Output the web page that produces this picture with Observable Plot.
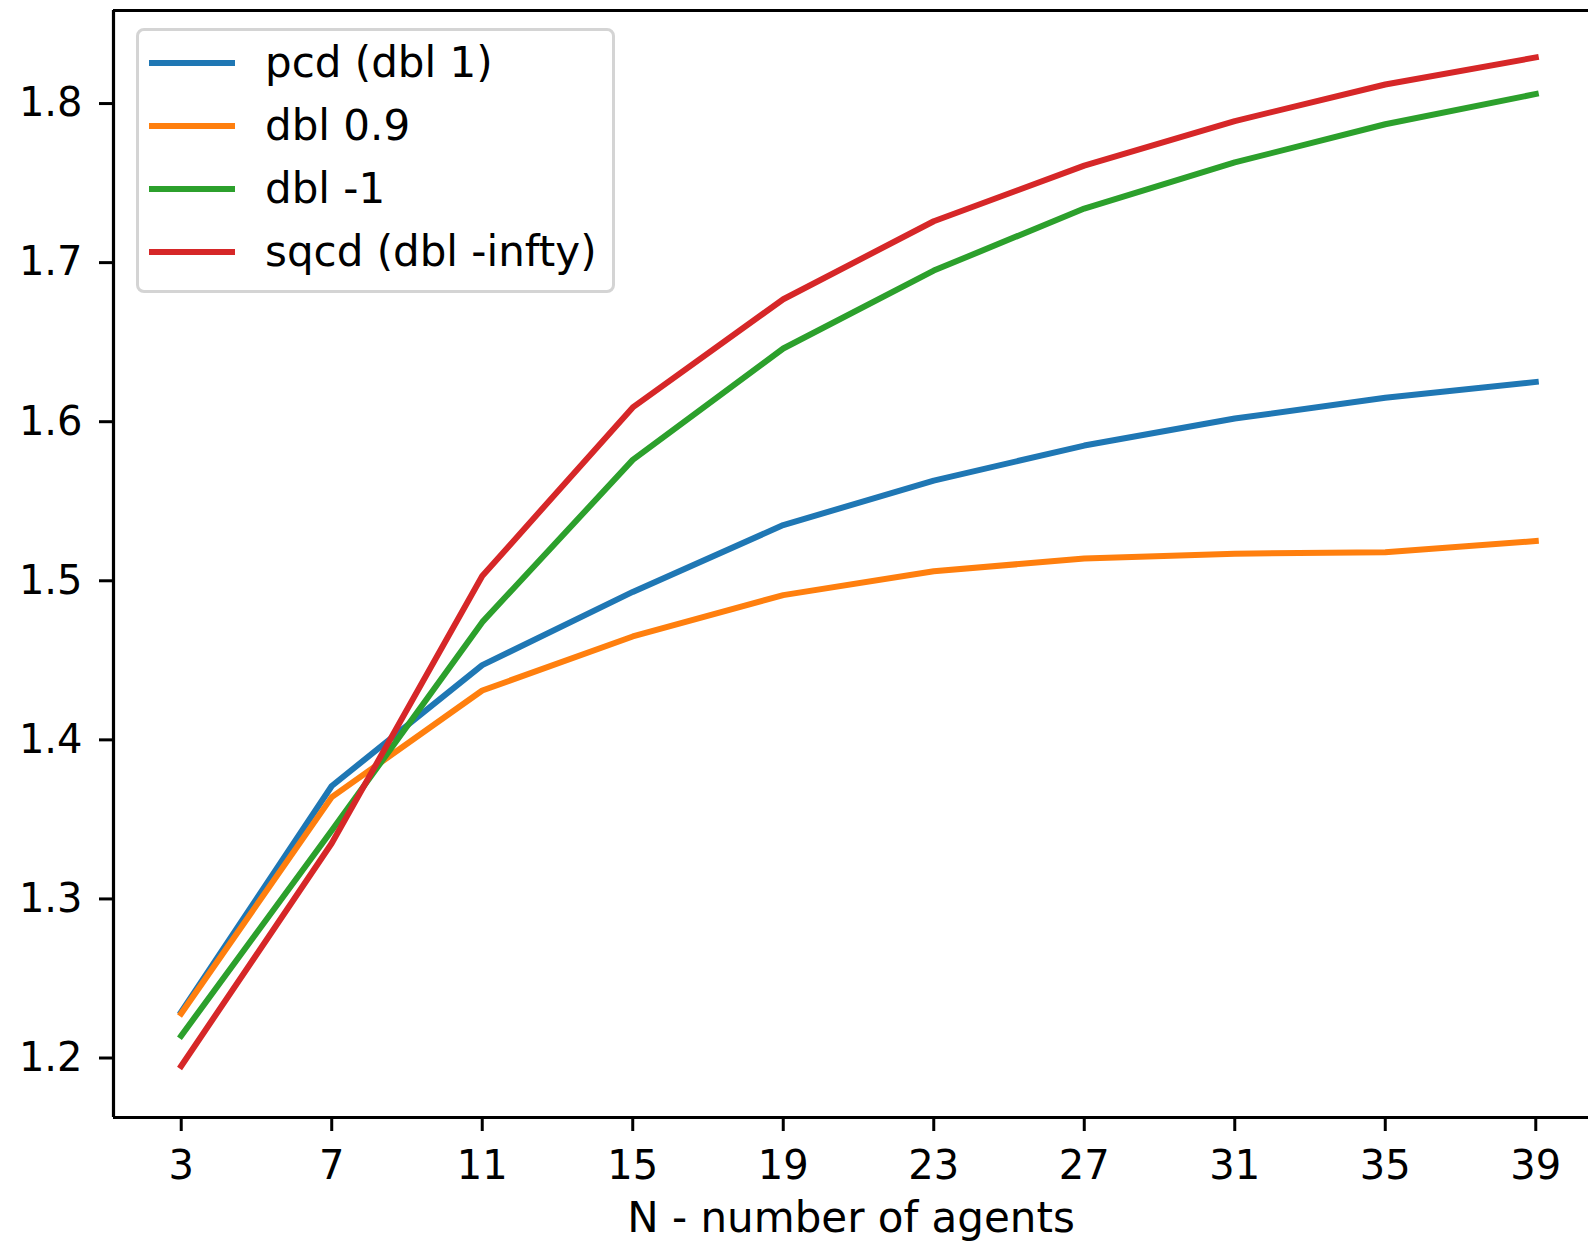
<!DOCTYPE html>
<html>
<head>
<meta charset="utf-8">
<script src="https://cdn.jsdelivr.net/npm/d3@7"></script>
<script src="https://cdn.jsdelivr.net/npm/@observablehq/plot@0.6"></script>
<style>
  body { margin: 0; background: #fff; }
  #wrap { position: relative; width: 1588px; height: 1243px; overflow: hidden; font-family: "DejaVu Sans", sans-serif; }
  #legend { position: absolute; left: 136px; top: 28px; width: 479px; height: 265px; box-sizing: border-box;
            border: 3px solid #d4d4d4; border-radius: 8px; background: rgba(255,255,255,0.8); }
  .row { display: flex; align-items: center; height: 63px; padding-left: 10px; font-size: 42px; color: #000; white-space: nowrap; }
  .swatch { width: 86px; height: 6px; margin-right: 30px; flex: none; }
</style>
</head>
<body>
<div id="wrap"><div id="chart"></div><div id="legend"></div></div>
<script>
const N = [3, 7, 11, 15, 19, 23, 27, 31, 35, 39];
const pcd   = [1.229, 1.371, 1.447, 1.493, 1.535, 1.563, 1.585, 1.602, 1.615, 1.625];
const dbl09 = [1.228, 1.364, 1.431, 1.465, 1.491, 1.506, 1.514, 1.517, 1.518, 1.525];
const dblm1 = [1.214, 1.343, 1.474, 1.576, 1.646, 1.695, 1.734, 1.763, 1.787, 1.806];
const sqcd  = [1.195, 1.335, 1.503, 1.609, 1.677, 1.726, 1.761, 1.789, 1.812, 1.829];
const seriesNames = ["pcd (dbl 1)", "dbl 0.9", "dbl -1", "sqcd (dbl -infty)"];
const seriesColors = ["#1f77b4", "#ff7f0e", "#2ca02c", "#d62728"];
const xTicks = [3, 7, 11, 15, 19, 23, 27, 31, 35, 39];
const yTicks = [1.2, 1.3, 1.4, 1.5, 1.6, 1.7, 1.8];
const xLabel = "N - number of agents";

const xDomain = [1.2, 40.8];
const yDomain = [1.1626, 1.8585];

const data = [];
[pcd, dbl09, dblm1, sqcd].forEach((vals, i) =>
  vals.forEach((v, j) => data.push({series: seriesNames[i], n: N[j], v})));

const plot = Plot.plot({
  width: 1588,
  height: 1243,
  marginLeft: 113,
  marginRight: 0,
  marginTop: 10,
  marginBottom: 126,
  style: {fontFamily: "DejaVu Sans", fontSize: "40px", background: "#fff", color: "#000", overflow: "visible"},
  x: {domain: xDomain, range: [113, 1603]},
  y: {domain: yDomain},
  color: {domain: seriesNames, range: seriesColors},
  marks: [
    Plot.line(data, {x: "n", y: "v", z: "series", stroke: "series", strokeWidth: 6,
                     strokeLinejoin: "round", strokeLinecap: "square"}),
    Plot.ruleX([xDomain[0]], {stroke: "#000", strokeWidth: 3.2}),
    Plot.ruleY(yDomain, {stroke: "#000", strokeWidth: 3.2}),
    Plot.axisX(xTicks, {tickSize: 14, tickPadding: 19, strokeWidth: 3, fontSize: 40, label: null}),
    Plot.axisX([], {tickSize: 0, fontSize: 42, label: xLabel, labelAnchor: "center",
                    labelOffset: 114, labelArrow: false}),
    Plot.axisY(yTicks, {tickSize: 14, tickPadding: 17, strokeWidth: 3, fontSize: 40,
                        tickFormat: d => d.toFixed(1), label: null})
  ]
});
document.getElementById("chart").appendChild(plot);

const legend = document.getElementById("legend");
seriesNames.forEach((name, i) => {
  const row = document.createElement("div");
  row.className = "row";
  const sw = document.createElement("span");
  sw.className = "swatch";
  sw.style.background = seriesColors[i];
  const t = document.createElement("span");
  t.textContent = name;
  row.appendChild(sw);
  row.appendChild(t);
  legend.appendChild(row);
});
</script>
</body>
</html>
